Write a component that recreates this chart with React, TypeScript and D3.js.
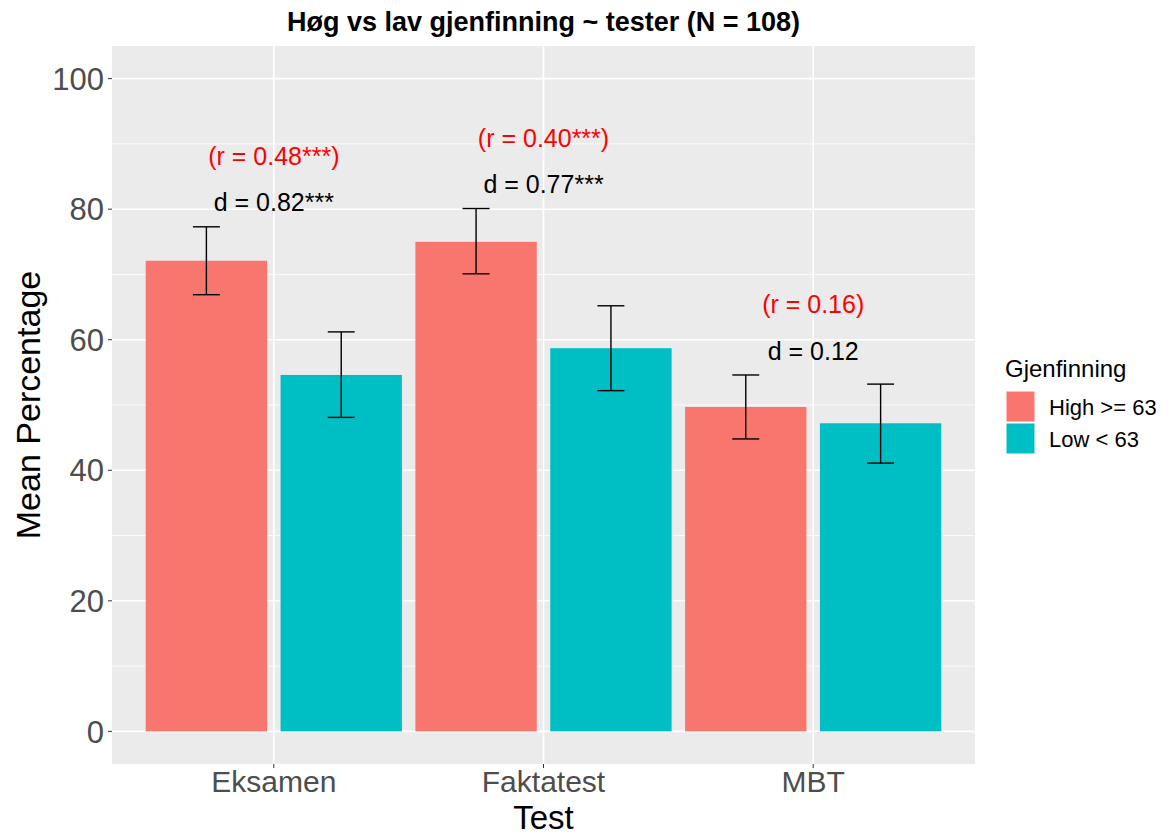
import React from 'react';
import * as d3 from 'd3';

const tests = ['Eksamen', 'Faktatest', 'MBT'];
const groups = ['High >= 63', 'Low < 63'];
const groupColors = ['#F8766D', '#00BFC4'];
const highMeans = [72.1, 75.0, 49.7];
const highLower = [66.9, 70.1, 44.8];
const highUpper = [77.3, 80.1, 54.6];
const lowMeans = [54.6, 58.7, 47.2];
const lowLower = [48.1, 52.2, 41.1];
const lowUpper = [61.2, 65.2, 53.2];
const dLabels = ['d = 0.82***', 'd = 0.77***', 'd = 0.12'];
const rLabels = ['(r = 0.48***)', '(r = 0.40***)', '(r = 0.16)'];
const yTicks = [0, 20, 40, 60, 80, 100];
const yMinor = [10, 30, 50, 70, 90];

const W = 1175;
const H = 838;
const panel = { left: 112, right: 975, top: 46, bottom: 764 };
const font = '"Liberation Sans", Arial, sans-serif';

const App: React.FC = () => {
  const x = d3.scaleLinear().domain([0.4, 3.6]).range([panel.left, panel.right]);
  const y = d3.scaleLinear().domain([-5, 105]).range([panel.bottom, panel.top]);

  const series = [
    { means: highMeans, lower: highLower, upper: highUpper, offset: -0.25 },
    { means: lowMeans, lower: lowLower, upper: lowUpper, offset: 0.25 },
  ];
  const barW = 0.45;
  const capW = 0.1;

  return (
    <svg width={W} height={H} style={{ position: 'absolute', left: 0, top: 0 }} fontFamily={font}>
      <rect width={W} height={H} fill="#fff" />
      <text x={(panel.left + panel.right) / 2} y={22} dy="0.35em" textAnchor="middle" fontSize={27} fontWeight="bold">
        Høg vs lav gjenfinning ~ tester (N = 108)
      </text>
      <rect x={panel.left} y={panel.top} width={panel.right - panel.left} height={panel.bottom - panel.top} fill="#EBEBEB" />
      {yMinor.map(t => (
        <line key={'mn' + t} x1={panel.left} x2={panel.right} y1={y(t)} y2={y(t)} stroke="#fff" strokeWidth={0.8} />
      ))}
      {yTicks.map(t => (
        <line key={'mj' + t} x1={panel.left} x2={panel.right} y1={y(t)} y2={y(t)} stroke="#fff" strokeWidth={1.6} />
      ))}
      {tests.map((t, i) => (
        <line key={'vx' + t} x1={x(i + 1)} x2={x(i + 1)} y1={panel.top} y2={panel.bottom} stroke="#fff" strokeWidth={1.6} />
      ))}
      {series.map((s, si) =>
        tests.map((t, i) => (
          <rect
            key={'b' + si + t}
            x={x(i + 1 + s.offset - barW / 2)}
            width={x(barW) - x(0)}
            y={y(s.means[i])}
            height={y(0) - y(s.means[i])}
            fill={groupColors[si]}
          />
        ))
      )}
      {series.map((s, si) =>
        tests.map((t, i) => {
          const cx = x(i + 1 + s.offset);
          const hw = (x(capW) - x(0)) / 2;
          return (
            <g key={'e' + si + t} stroke="#000" strokeWidth={1.4}>
              <line x1={cx} x2={cx} y1={y(s.lower[i])} y2={y(s.upper[i])} />
              <line x1={cx - hw} x2={cx + hw} y1={y(s.lower[i])} y2={y(s.lower[i])} />
              <line x1={cx - hw} x2={cx + hw} y1={y(s.upper[i])} y2={y(s.upper[i])} />
            </g>
          );
        })
      )}
      {tests.map((t, i) => {
        const top = Math.max(highUpper[i], lowUpper[i]);
        return (
          <g key={'a' + t} fontSize={25} textAnchor="middle">
            <text x={x(i + 1)} y={y(top + 3.7)} dy="0.35em" fill="#000">{dLabels[i]}</text>
            <text x={x(i + 1)} y={y(top + 10.8)} dy="0.35em" fill="#FF0000">{rLabels[i]}</text>
          </g>
        );
      })}
      {yTicks.map(t => (
        <g key={'yt' + t}>
          <line x1={panel.left - 4} x2={panel.left} y1={y(t)} y2={y(t)} stroke="#333" strokeWidth={1} />
          <text x={panel.left - 8} y={y(t)} dy="0.36em" textAnchor="end" fontSize={31} fill="#4D4D4D">{t}</text>
        </g>
      ))}
      {tests.map((t, i) => (
        <g key={'xt' + t}>
          <line x1={x(i + 1)} x2={x(i + 1)} y1={panel.bottom} y2={panel.bottom + 4} stroke="#333" strokeWidth={1} />
          <text x={x(i + 1)} y={781} dy="0.36em" textAnchor="middle" fontSize={30} fill="#4D4D4D">{t}</text>
        </g>
      ))}
      <text x={(panel.left + panel.right) / 2} y={817} dy="0.36em" textAnchor="middle" fontSize={33}>Test</text>
      <text
        transform={`translate(28,${(panel.top + panel.bottom) / 2}) rotate(-90)`}
        dy="0.36em"
        textAnchor="middle"
        fontSize={34}
      >
        Mean Percentage
      </text>
      <g fontSize={24}>
        <text x={1005} y={368} dy="0.36em">Gjenfinning</text>
        {groups.map((g, i) => (
          <g key={g}>
            <rect x={1006} y={391 + i * 32} width={29} height={31} fill={groupColors[i]} stroke="#fff" strokeWidth={1} />
            <text x={1049} y={407 + i * 32} dy="0.36em" fontSize={22}>{g}</text>
          </g>
        ))}
      </g>
    </svg>
  );
};

export default App;
